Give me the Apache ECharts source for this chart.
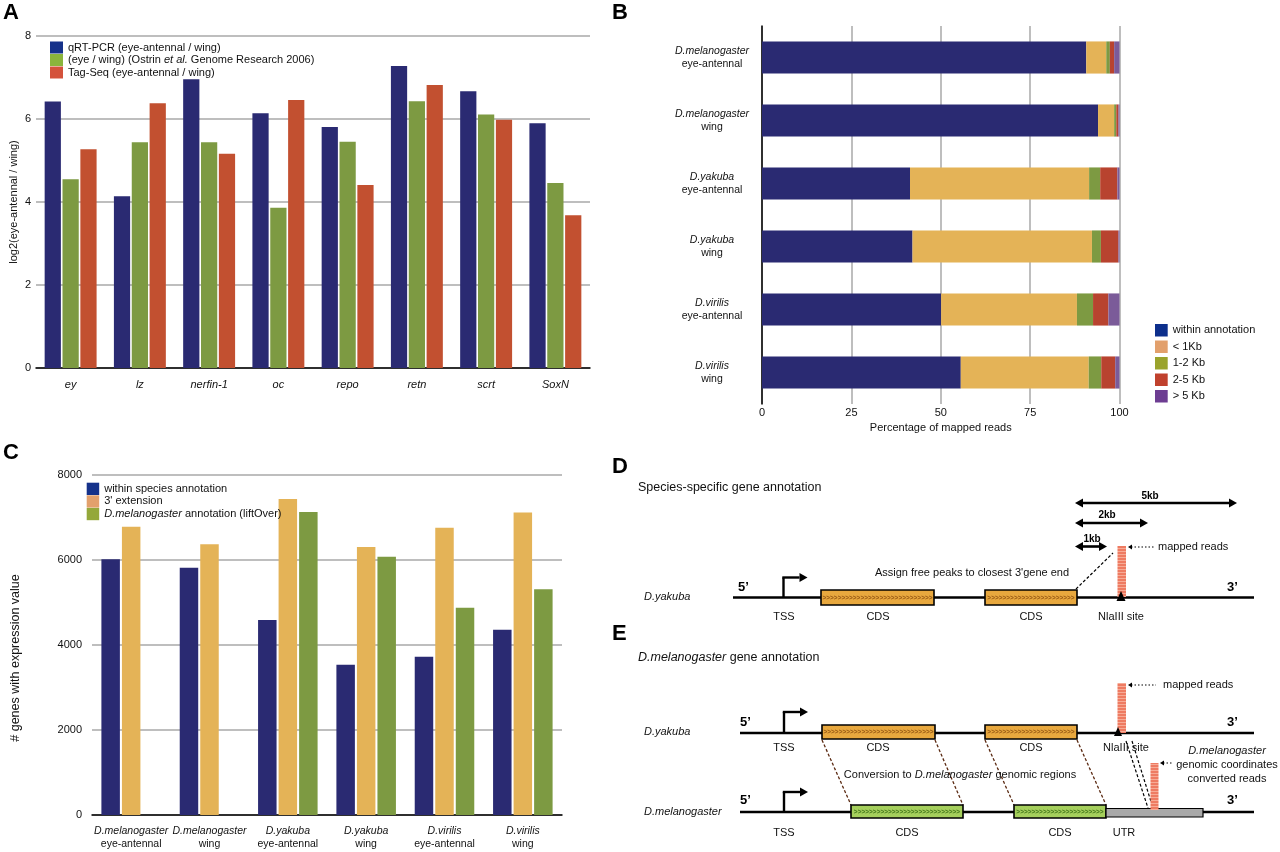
<!DOCTYPE html>
<html><head><meta charset="utf-8">
<script src="https://cdn.jsdelivr.net/npm/echarts@6.0.0/dist/echarts.min.js"></script>
<style>html,body{margin:0;padding:0;background:#fff}#c{width:1280px;height:852px}</style>
</head><body><div id="c"></div>
<script>
// ---------- Panel A data ----------
const genesA = ['ey','lz','nerfin-1','oc','repo','retn','scrt','SoxN'];
const qrtPcrA = [6.42,4.14,6.96,6.14,5.81,7.28,6.67,5.90];
const ostrinA = [4.55,5.44,5.44,3.86,5.45,6.43,6.11,4.46];
const tagSeqA = [5.27,6.38,5.16,6.46,4.41,6.82,5.98,3.68];
const namesA = ['qRT-PCR (eye-antennal / wing)','(eye / wing) (Ostrin et al. Genome Research 2006)','Tag-Seq (eye-antennal / wing)'];

// ---------- Samples (B, C) ----------
const speciesS = ['D.melanogaster','D.melanogaster','D.yakuba','D.yakuba','D.virilis','D.virilis'];
const tissueS = ['eye-antennal','wing','eye-antennal','wing','eye-antennal','wing'];

// ---------- Panel B data (% of mapped reads) ----------
const withinB = [90.7,94.0,41.4,42.1,50.1,55.6];
const lt1kbB  = [5.6,4.5,50.1,50.2,38.0,35.8];
const kb12B   = [1.0,0.6,3.1,2.5,4.5,3.5];
const kb25B   = [1.2,0.6,4.8,4.9,4.3,3.9];
const gt5kbB  = [1.5,0.3,0.6,0.3,3.1,1.2];
const namesB = ['within annotation','< 1Kb','1-2 Kb','2-5 Kb','> 5 Kb'];

// ---------- Panel C data (# genes) ----------
const withinC = [6020,5819,4588,3537,3725,4361];
const extC    = [6784,6369,7435,6306,6761,7118];
const liftC   = [null,null,7129,6078,4878,5310];
const namesC = ['within species annotation',"3' extension",'D.melanogaster annotation (liftOver)'];

const FONT = '"Liberation Sans", Arial, Helvetica, sans-serif';
const TXT = '#111';
const samples = speciesS.map((s,i)=>s+'\n'+tissueS[i]);
const twoLine = v => { const p = v.split('\n'); return '{i|'+p[0]+'}\n{n|'+p[1]+'}'; };
const twoRich = {
  i:{fontStyle:'italic', fontSize:10.5, lineHeight:13.5, color:TXT, fontFamily:FONT},
  n:{fontSize:10.5, lineHeight:13.5, color:TXT, fontFamily:FONT}
};
function italicPart(token){
  return function(name){
    const k = name.indexOf(token);
    if(k<0) return '{n|'+name+'}';
    let s = '';
    if(k>0) s += '{n|'+name.slice(0,k)+'}';
    s += '{i|'+token+'}';
    if(k+token.length<name.length) s += '{n|'+name.slice(k+token.length)+'}';
    return s;
  };
}
const legRich = {n:{fontSize:11,color:TXT,fontFamily:FONT,lineHeight:12}, i:{fontSize:11,color:TXT,fontStyle:'italic',fontFamily:FONT,lineHeight:12}};

const cBlue='#2a2a72', cGreen='#7d9a42', cRed='#c25030', cOrange='#e4b357', cRed2='#b8432f', cPurple='#7b5b99';
const grid = '#a9a9a9';

// ---------- Diagram helpers (panels D, E) ----------
const G = [];
function T(x,y,text,o,z){ G.push({type:'text', x, y, silent:true, z:z||10, style:Object.assign({text, fontSize:11, fontFamily:FONT, fill:TXT, align:'center', verticalAlign:'middle'}, o||{})}); }
function L(x1,y1,x2,y2,o){ G.push({type:'line', silent:true, z:5, shape:{x1,y1,x2,y2}, style:Object.assign({stroke:'#000', lineWidth:2.2}, o||{})}); }
function P(points, z){ G.push({type:'polygon', silent:true, z:z||6, shape:{points}, style:{fill:'#000'}}); }
function R(x,y,w,h,fill,stroke,lw,z){ G.push({type:'rect', silent:true, z:z||7, shape:{x,y,width:w,height:h}, style:{fill, stroke: stroke||null, lineWidth: lw||0}}); }
function head(tx,ty,dx,dy,len,half,z){ const bx=tx-dx*len, by=ty-dy*len; P([[tx,ty],[bx-dy*half, by+dx*half],[bx+dy*half, by-dx*half]], z); }
function dbl(x1,x2,y){ L(x1+6,y,x2-6,y,{lineWidth:2.6}); head(x1,y,-1,0,8,4.5); head(x2,y,1,0,8,4.5); }
function tss(x,yLine,yTop){ L(x,yLine,x,yTop,{lineWidth:2.4}); L(x-1.2,yTop,x+16,yTop,{lineWidth:2.4}); head(x+24,yTop,1,0,8,4.5); }
function cds(x1,x2,y1,y2,fill,chev){ R(x1,y1,x2-x1,y2-y1,fill,'#000',1.6); const n=Math.floor((x2-x1-8)/3.6); T((x1+x2)/2,(y1+y2)/2+0.5,'>'.repeat(n),{fontSize:6.5, fill:chev, fontWeight:'bold'}, 11); }
const pc = document.createElement('canvas'); pc.width=4; pc.height=3;
const pctx = pc.getContext('2d'); pctx.fillStyle='#ee7b62'; pctx.fillRect(0,0,4,3); pctx.fillStyle='#f7ab96'; pctx.fillRect(0,2,4,1);
const reads = {image:pc, repeat:'repeat'};
const dotted = {lineWidth:1.2, lineDash:[1.5,2]};
const dashed = {lineWidth:1.2, lineDash:[3,2]};
const prime = {align:'left', fontSize:13, fontWeight:'bold', fill:'#000'};
const ital = {fontStyle:'italic'};
const kb = {fontSize:10, fontWeight:'bold', fill:'#000'};
const titleRich = {i:{fontStyle:'italic',fontSize:12.5,fill:TXT,fontFamily:FONT}, n:{fontSize:12.5,fill:TXT,fontFamily:FONT}};
const orangeBox='#e8a83e', orangeChev='#9a5c16', greenBox='#a5cf5c', greenChev='#467a1c';

// panel letters
const big = {align:'left', fontSize:22, fontWeight:'bold', fill:'#000'};
T(3,13,'A',big); T(612,13,'B',big); T(3,453,'C',big); T(612,467,'D',big); T(612,634,'E',big);

// ---- D ----
T(638,488,'Species-specific gene annotation',{align:'left', fontSize:12.5});
dbl(1075,1237,503); T(1150,496,'5kb',kb);
dbl(1075,1148,523); T(1107,515,'2kb',kb);
dbl(1075,1107,546.5); T(1092,539,'1kb',kb);
R(1117.5,546,8.5,51,reads,null,0,8);
L(1131,547,1155,547,dotted); head(1128,547,-1,0,4,2.5);
T(1158,547,'mapped reads',{align:'left'});
T(972,573,"Assign free peaks to closest 3'gene end");
L(1076,589,1113,553,dashed);
L(733,597.5,1254,597.5,{lineWidth:2.7});
T(738,587,'5’',prime); T(1227,587,'3’',prime);
tss(783.5,597.5,577.5);
cds(821,934,590,605,orangeBox,orangeChev); cds(985,1077,590,605,orangeBox,orangeChev);
P([[1121,591],[1116.5,601],[1125.5,601]],9);
T(784,617,'TSS'); T(878,617,'CDS'); T(1031,617,'CDS'); T(1121,617,'NlaIII site');
T(644,597,'D.yakuba',Object.assign({align:'left'},ital));

// ---- E ----
T(638,658,'{i|D.melanogaster}{n| gene annotation}',{align:'left', rich:titleRich});
R(1117.5,683,8.5,50,reads,null,0,8);
L(1131,685,1156,685,dotted); head(1128,685,-1,0,4,2.5);
T(1163,685,'mapped reads',{align:'left'});
L(740,733,1254,733,{lineWidth:2.7});
T(740,722,'5’',prime); T(1227,722,'3’',prime);
tss(784,733,712);
cds(822,935,725,739,orangeBox,orangeChev); cds(985,1077,725,739,orangeBox,orangeChev);
P([[1118,727],[1114,736],[1122,736]],9);
T(784,748,'TSS'); T(878,748,'CDS'); T(1031,748,'CDS'); T(1126,748,'NlaIII site');
T(644,732,'D.yakuba',Object.assign({align:'left'},ital));
const brown = {lineWidth:1.3, lineDash:[3,2], stroke:'#5b2a12'};
L(822,740,851,805,brown); L(935,740,963,805,brown); L(985,740,1014,805,brown); L(1077,740,1106,805,brown);
L(1126,741,1148,808,dashed); L(1132,741,1153,808,dashed);
T(960,775,'{n|Conversion to }{i|D.melanogaster}{n| genomic regions}',{rich:{i:{fontStyle:'italic',fontSize:11,fill:TXT,fontFamily:FONT},n:{fontSize:11,fill:TXT,fontFamily:FONT}}});
T(1227,751,'D.melanogaster',ital); T(1227,765,'genomic coordinates'); T(1227,779,'converted reads');
R(1150.5,763,8,47,reads,null,0,9);
L(1163,763,1172,763,dotted); head(1160,763,-1,0,4,2.5);
L(740,812,1254,812,{lineWidth:2.7});
T(740,800,'5’',prime); T(1227,800,'3’',prime);
tss(784,812,792);
cds(851,963,805,818,greenBox,greenChev); cds(1014,1106,805,818,greenBox,greenChev);
R(1106,808.5,97,8.5,'#a9a9a9','#000',1.2);
T(784,833,'TSS'); T(907,833,'CDS'); T(1060,833,'CDS'); T(1124,833,'UTR');
T(644,812,'D.melanogaster',Object.assign({align:'left'},ital));

// ---------- Chart ----------
const chart = echarts.init(document.getElementById('c'), null, {renderer:'canvas'});
const barA = (name,data,color) => ({name, type:'bar', xAxisIndex:0, yAxisIndex:0, data, itemStyle:{color}, barGap:'10%', barCategoryGap:'25%'});
const barB = (name,data,color) => ({name, type:'bar', stack:'b', xAxisIndex:1, yAxisIndex:1, data, itemStyle:{color}, barCategoryGap:'49%'});
const barC = (name,data,color) => ({name, type:'bar', xAxisIndex:2, yAxisIndex:2, data, itemStyle:{color}, barGap:'11%', barCategoryGap:'24%'});
const option = {
  animation:false,
  backgroundColor:'#fff',
  textStyle:{fontFamily:FONT},
  grid:[
    {left:36, top:36, width:554, height:332},
    {left:762, top:26, width:357.5, height:378},
    {left:92, top:475, width:470, height:340}
  ],
  xAxis:[
    {gridIndex:0, type:'category', data:genesA, axisLine:{lineStyle:{color:'#000', width:1.5}}, axisTick:{show:false},
     axisLabel:{fontStyle:'italic', fontSize:11, color:TXT, margin:11}},
    {gridIndex:1, type:'value', min:0, max:100, interval:25, axisLine:{show:false}, axisTick:{show:false},
     splitLine:{lineStyle:{color:grid, width:1.5}}, axisLabel:{fontSize:11, color:TXT, margin:3},
     name:'Percentage of mapped reads', nameLocation:'middle', nameGap:18, nameTextStyle:{fontSize:11, color:TXT}},
    {gridIndex:2, type:'category', data:samples, axisLine:{lineStyle:{color:'#000', width:1.5}}, axisTick:{show:false},
     axisLabel:{margin:9, formatter:twoLine, rich:twoRich, interval:0}}
  ],
  yAxis:[
    {gridIndex:0, type:'value', min:0, max:8, interval:2, axisLine:{show:false}, axisTick:{show:false},
     splitLine:{lineStyle:{color:grid, width:1.5}}, axisLabel:{fontSize:11, color:TXT, margin:5},
     name:'log2(eye-antennal / wing)', nameLocation:'middle', nameGap:17, nameTextStyle:{fontSize:11, color:TXT}},
    {gridIndex:1, type:'category', inverse:true, data:samples, axisLine:{show:true, lineStyle:{color:'#000', width:1.5}}, axisTick:{show:false},
     axisLabel:{align:'center', margin:50, formatter:twoLine, rich:twoRich, interval:0}},
    {gridIndex:2, type:'value', min:0, max:8000, interval:2000, axisLine:{show:false}, axisTick:{show:false},
     splitLine:{lineStyle:{color:grid, width:1.5}}, axisLabel:{fontSize:11, color:TXT, margin:10, formatter:v=>String(v)},
     name:'# genes with expression value', nameLocation:'middle', nameGap:70,
     nameTextStyle:{fontSize:12.5, color:TXT, padding:[0,26,0,0]}}
  ],
  legend:[
    {left:50, top:41.5, orient:'vertical', icon:'rect', itemWidth:13, itemHeight:12, itemGap:0.5, padding:0,
     formatter:italicPart('et al.'), textStyle:{rich:legRich},
     data:[{name:namesA[0], itemStyle:{color:'#15318a'}},{name:namesA[1], itemStyle:{color:'#8ab43c'}},{name:namesA[2], itemStyle:{color:'#d4523b'}}]},
    {left:1155, top:324, orient:'vertical', icon:'rect', itemWidth:12.7, itemHeight:12.5, itemGap:4, padding:0,
     formatter:italicPart('@@'), textStyle:{rich:legRich},
     data:[{name:namesB[0], itemStyle:{color:'#0d2f8c'}},{name:namesB[1], itemStyle:{color:'#e2a06c'}},{name:namesB[2], itemStyle:{color:'#9aa32c'}},{name:namesB[3], itemStyle:{color:'#c0412d'}},{name:namesB[4], itemStyle:{color:'#6d3d92'}}]},
    {left:86.7, top:482.7, orient:'vertical', icon:'rect', itemWidth:12.5, itemHeight:12.3, itemGap:0.3, padding:0,
     formatter:italicPart('D.melanogaster'), textStyle:{rich:legRich},
     data:[{name:namesC[0], itemStyle:{color:'#15318a'}},{name:namesC[1], itemStyle:{color:'#e2a06c'}},{name:namesC[2], itemStyle:{color:'#94a83a'}}]}
  ],
  graphic:{elements:G},
  series:[
    barA(namesA[0], qrtPcrA, cBlue), barA(namesA[1], ostrinA, cGreen), barA(namesA[2], tagSeqA, cRed),
    barB(namesB[0], withinB, cBlue), barB(namesB[1], lt1kbB, cOrange), barB(namesB[2], kb12B, cGreen), barB(namesB[3], kb25B, cRed2), barB(namesB[4], gt5kbB, cPurple),
    barC(namesC[0], withinC, cBlue), barC(namesC[1], extC, cOrange), barC(namesC[2], liftC, cGreen)
  ]
};
chart.setOption(option);
</script></body></html>
